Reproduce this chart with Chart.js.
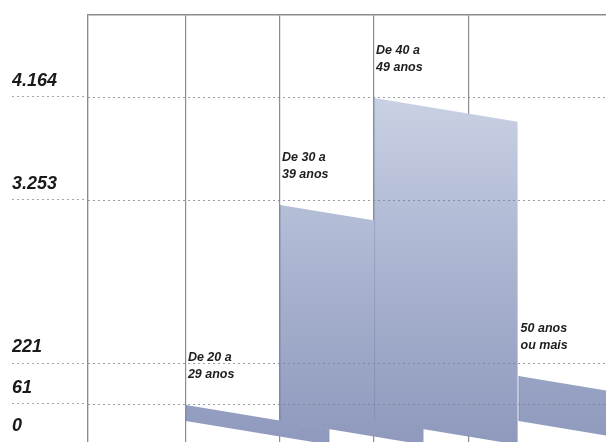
<!DOCTYPE html>
<html lang="pt-BR">
<head>
  <meta charset="UTF-8">
  <title>Faixa etária</title>
  <script src="https://cdn.jsdelivr.net/npm/chart.js"></script>
  <style>
    html, body { margin: 0; padding: 0; background: #fff; }
    #wrap { width: 606px; height: 442px; }
  </style>
</head>
<body>
  <div id="wrap">
    <canvas id="ageChart" width="606" height="442"></canvas>
  </div>

  <script>
    // data
    const ageGroups = ['De 20 a\n29 anos', 'De 30 a\n39 anos', 'De 40 a\n49 anos', '50 anos\nou mais'];
    const counts = [61, 3253, 4164, 221];
    const tickValues = [0, 61, 221, 3253, 4164];
    const tickLabels = ['0', '61', '221', '3.253', '4.164'];

    // where the panels sit (column units on x) and how they lean
    const barLayout = {
      left: [1.03, 2.02, 3.01, 4.53],
      span: 1.51,
      slope: 0.165,     // px of drop per px of width
      drop: [1, 5, 1, 13],
      lift: 21          // base sits this far above the zero line
    };

    // y axis is not linear: each tick gets its own share of the height
    class SegmentedScale extends Chart.LinearScale {
      _frac(value) {
        const v = this.options.stops, f = this.options.fractions;
        let i = 1;
        while (i < v.length - 1 && value > v[i]) i++;
        const t = (value - v[i - 1]) / (v[i] - v[i - 1]);
        return f[i - 1] + t * (f[i] - f[i - 1]);
      }
      getPixelForValue(value) {
        return this.getPixelForDecimal(this._frac(value));
      }
      getValueForPixel(pixel) {
        const d = this.getDecimalForPixel(pixel);
        const v = this.options.stops, f = this.options.fractions;
        let i = 1;
        while (i < f.length - 1 && d > f[i]) i++;
        const t = (d - f[i - 1]) / (f[i] - f[i - 1]);
        return v[i - 1] + t * (v[i] - v[i - 1]);
      }
    }
    SegmentedScale.id = 'segmented';
    SegmentedScale.defaults = Chart.LinearScale.defaults;
    Chart.register(SegmentedScale);

    const datasets = counts.map((c, i) => ({
      label: ageGroups[i].replace('\n', ' '),
      data: [
        { x: barLayout.left[i], y: c },
        { x: barLayout.left[i] + barLayout.span, y: c }
      ],
      showLine: false,
      pointRadius: 0,
      pointHoverRadius: 0
    }));

    const panelPlugin = {
      id: 'panels',
      beforeDatasetsDraw(chart) {
        const { ctx, chartArea, scales: { x, y } } = chart;
        const grad = ctx.createLinearGradient(0, chartArea.top, 0, chartArea.bottom);
        grad.addColorStop(0, '#dde2ee');
        grad.addColorStop(0.2, '#c8d0e3');
        grad.addColorStop(0.55, '#adb7d2');
        grad.addColorStop(1, '#8e99bd');

        ctx.save();
        chart.data.datasets.forEach((ds, i) => {
          const x1 = x.getPixelForValue(ds.data[0].x);
          const x2 = x.getPixelForValue(ds.data[1].x);
          const top = y.getPixelForValue(ds.data[0].y) + barLayout.drop[i];
          const base = y.getPixelForValue(0) - barLayout.lift;
          const fall = (x2 - x1) * barLayout.slope;

          ctx.beginPath();
          ctx.moveTo(x1, top);
          ctx.lineTo(x2, top + fall);
          ctx.lineTo(x2, base + fall);
          ctx.lineTo(x1, base);
          ctx.closePath();
          ctx.fillStyle = grad;
          ctx.fill();

          // soft edge on the left side
          ctx.beginPath();
          ctx.moveTo(x1 + 0.5, top);
          ctx.lineTo(x1 + 0.5, base);
          ctx.strokeStyle = 'rgba(110,122,160,0.35)';
          ctx.lineWidth = 1;
          ctx.stroke();

          // label above the panel
          ctx.fillStyle = '#1e1e1e';
          ctx.font = 'italic bold 12.5px "Liberation Sans", Arial, sans-serif';
          ctx.textAlign = 'left';
          ctx.textBaseline = 'middle';
          const lines = ageGroups[i].split('\n');
          ctx.fillText(lines[0], x1 + 2, top - 47);
          ctx.fillText(lines[1], x1 + 2, top - 30);
        });
        ctx.restore();
      }
    };

    // dotted value lines are laid over the panels, as in the print
    const overGridPlugin = {
      id: 'overGrid',
      afterDatasetsDraw(chart) {
        const { ctx, chartArea, scales: { y } } = chart;
        ctx.save();
        ctx.strokeStyle = 'rgba(120,124,140,0.75)';
        ctx.lineWidth = 1;
        ctx.setLineDash([2, 3]);
        y.ticks.forEach(t => {
          const py = Math.round(y.getPixelForValue(t.value)) + 0.5;
          ctx.beginPath();
          ctx.moveTo(chartArea.left, py);
          ctx.lineTo(chartArea.right, py);
          ctx.stroke();
        });
        ctx.restore();
      }
    };

    new Chart(document.getElementById('ageChart'), {
      type: 'line',
      data: { datasets },
      plugins: [panelPlugin, overGridPlugin],
      options: {
        responsive: false,
        animation: false,
        layout: { padding: { top: 15, left: 12, right: 0, bottom: 0 } },
        plugins: {
          legend: { display: false },
          tooltip: { enabled: false }
        },
        scales: {
          x: {
            type: 'linear',
            position: 'top',
            min: 0,
            max: 5.45,
            afterBuildTicks: s => { s.ticks = [0, 1.03, 2.02, 3.01, 4].map(v => ({ value: v })); },
            afterFit: s => { s.height = 0; },
            ticks: { display: false },
            grid: { color: '#8c8c8c', lineWidth: 1.2, drawTicks: false },
            border: { display: true, color: '#8c8c8c', width: 1.4 }
          },
          y: {
            type: 'segmented',
            position: 'left',
            min: 0,
            max: 4890,
            stops: [0, 61, 221, 3253, 4164, 4890],
            fractions: [0, 0.089, 0.185, 0.567, 0.808, 1],
            afterBuildTicks: s => { s.ticks = tickValues.map(v => ({ value: v })); },
            afterFit: s => { s.width = 76; s.paddingTop = 0; s.paddingBottom = 0; },
            ticks: {
              crossAlign: 'far',
              labelOffset: -16,
              padding: 0,
              color: '#1a1a1a',
              font: { family: '"Liberation Sans", Arial, sans-serif', size: 18, style: 'italic', weight: 'bold' },
              callback: (value) => tickLabels[tickValues.indexOf(value)]
            },
            grid: {
              drawOnChartArea: false,
              tickLength: 76,
              tickColor: '#a6a6a6',
              tickWidth: 1,
              tickBorderDash: [2, 3]
            },
            border: { display: true, color: '#8c8c8c', width: 1.2 }
          }
        }
      }
    });
  </script>
</body>
</html>
